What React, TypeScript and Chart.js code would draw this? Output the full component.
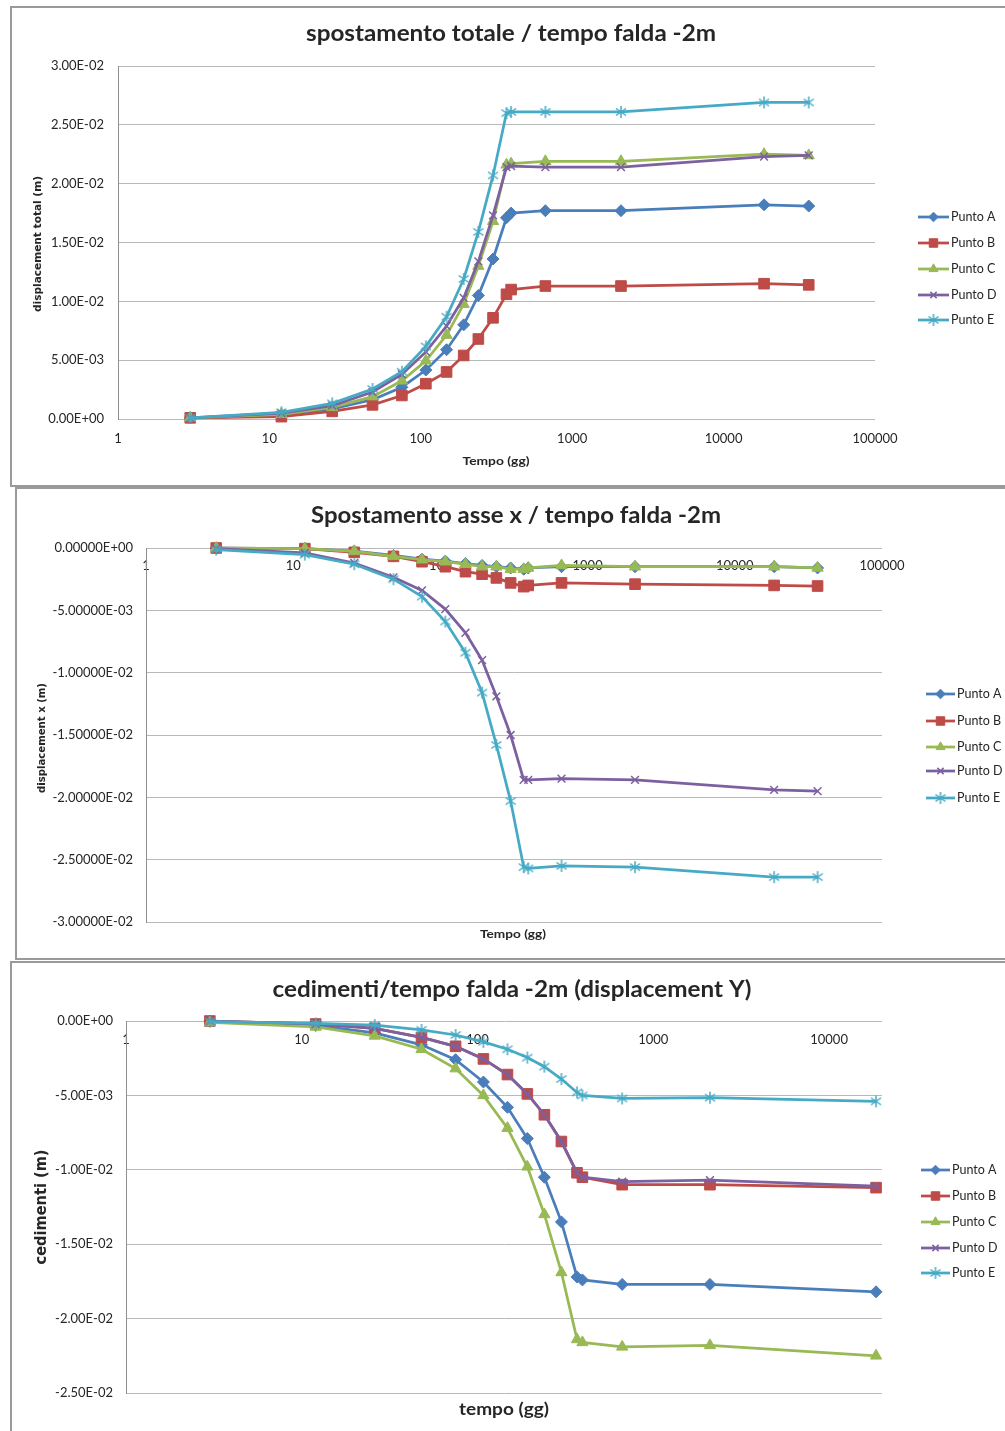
import React, { useEffect, useRef } from 'react';
import { Chart, registerables } from 'chart.js';
import { drawPoint } from 'chart.js/helpers';

Chart.register(...registerables);

// ---- series ----
const SERIES_NAMES = ['Punto A', 'Punto B', 'Punto C', 'Punto D', 'Punto E'];
const SERIES_COLORS = ['#4A7EBB', '#BE4B48', '#98B954', '#7D60A0', '#46AAC5'];

// time steps (giorni)
const TEMPO = [3, 12, 26, 48, 75, 108, 148, 192, 240, 300, 368, 395, 665, 2100, 18500, 36500];
const TEMPO_CED = [3, 12, 26, 48, 75, 108, 148, 192, 240, 300, 368, 395, 665, 2100, 18500];

// spostamento totale (m)
const TOT_A = [0.0001, 0.0003, 0.00085, 0.00164, 0.0027, 0.00416, 0.00589, 0.008, 0.0105, 0.0136, 0.0171, 0.0175, 0.0177, 0.0177, 0.0182, 0.0181];
const TOT_B = [0.0001, 0.0002, 0.00065, 0.0012, 0.002, 0.003, 0.004, 0.0054, 0.0068, 0.0086, 0.0106, 0.011, 0.0113, 0.0113, 0.0115, 0.0114];
const TOT_C = [0.0001, 0.0004, 0.00099, 0.0019, 0.00325, 0.00495, 0.00713, 0.00976, 0.013, 0.0168, 0.0216, 0.0217, 0.0219, 0.0219, 0.0225, 0.0224];
const TOT_D = [0.0001, 0.0005, 0.00113, 0.0023, 0.0038, 0.0057, 0.0079, 0.0103, 0.0134, 0.0173, 0.0214, 0.0215, 0.0214, 0.0214, 0.0223, 0.0224];
const TOT_E = [0.0001, 0.00057, 0.00133, 0.00255, 0.00402, 0.00617, 0.00869, 0.0119, 0.0159, 0.0207, 0.026, 0.0261, 0.0261, 0.0261, 0.0269, 0.0269];

// spostamento asse x (m)
const DX_A = [0, -0.00005, -0.00025, -0.0006, -0.0009, -0.00105, -0.00125, -0.0014, -0.0015, -0.0016, -0.0017, -0.0016, -0.0015, -0.0015, -0.0015, -0.0016];
const DX_B = [0, -0.00005, -0.00035, -0.00067, -0.0011, -0.0015, -0.0019, -0.0021, -0.0024, -0.0028, -0.0031, -0.003, -0.0028, -0.0029, -0.003, -0.00305];
const DX_C = [0, -0.00005, -0.00027, -0.00067, -0.00094, -0.0011, -0.0013, -0.0015, -0.0015, -0.0017, -0.0017, -0.0016, -0.0014, -0.0015, -0.0015, -0.0016];
const DX_D = [-0.00005, -0.0004, -0.0012, -0.00235, -0.0034, -0.0049, -0.0068, -0.009, -0.0119, -0.015, -0.0186, -0.0186, -0.0185, -0.0186, -0.0194, -0.0195];
const DX_E = [-0.00013, -0.00053, -0.0013, -0.0025, -0.0039, -0.0059, -0.0084, -0.0116, -0.0158, -0.0203, -0.0256, -0.0257, -0.0255, -0.0256, -0.0264, -0.0264];

// cedimenti (m)
const CED_A = [0, -0.0003, -0.0008, -0.0016, -0.0026, -0.0041, -0.0058, -0.0079, -0.0105, -0.0135, -0.0172, -0.0174, -0.0177, -0.0177, -0.0182];
const CED_B = [0, -0.0002, -0.0005, -0.0011, -0.0017, -0.00255, -0.0036, -0.0049, -0.0063, -0.0081, -0.0102, -0.0105, -0.011, -0.011, -0.0112];
const CED_C = [-0.0001, -0.0004, -0.001, -0.0019, -0.0032, -0.005, -0.0072, -0.0098, -0.013, -0.0169, -0.0214, -0.0216, -0.0219, -0.0218, -0.0225];
const CED_D = [0, -0.0002, -0.0005, -0.0011, -0.0017, -0.00255, -0.0036, -0.0049, -0.0063, -0.0081, -0.0102, -0.0105, -0.0108, -0.0107, -0.0111];
const CED_E = [-0.00004, -0.00016, -0.00027, -0.0006, -0.00094, -0.0014, -0.0019, -0.00246, -0.00307, -0.0039, -0.0048, -0.005, -0.0052, -0.00515, -0.0054];

// ---- ticks ----
const X_TICKS_LONG = [1, 10, 100, 1000, 10000, 100000];
const X_TICKS_SHORT = [1, 10, 100, 1000, 10000];
const Y_TICKS_TOT = [0, 0.005, 0.01, 0.015, 0.02, 0.025, 0.03];
const Y_TICKS_DX = [-0.03, -0.025, -0.02, -0.015, -0.01, -0.005, 0];
const Y_TICKS_CED = [-0.025, -0.02, -0.015, -0.01, -0.005, 0];

const CANVAS_W = 1005;
const TICK_FONT = { family: 'Lato', size: 13 };
const TEXT_COLOR = '#262626';

function fmtExp(v: number, digits: number): string {
  if (Math.abs(v) < 1e-12) return (0).toFixed(digits) + 'E+00';
  const [m, e] = v.toExponential(digits).split('e');
  const n = parseInt(e, 10);
  return m + 'E' + (n < 0 ? '-' : '+') + String(Math.abs(n)).padStart(2, '0');
}

function makeStar(color: string): HTMLCanvasElement {
  const c = document.createElement('canvas');
  c.width = 14;
  c.height = 14;
  const g = c.getContext('2d')!;
  g.strokeStyle = color;
  g.lineWidth = 1.5;
  g.beginPath();
  g.moveTo(7, 1);
  g.lineTo(7, 13);
  g.moveTo(2, 3.5);
  g.lineTo(12, 10.5);
  g.moveTo(12, 3.5);
  g.lineTo(2, 10.5);
  g.stroke();
  return c;
}

type TextSpec = { text: string; x: number; y: number; w: number; font: string; rotate?: boolean };

type PanelSpec = {
  frame: { left: number; top: number; height: number };
  canvasTop: number;
  canvasH: number;
  plot: { left: number; top: number; right: number; bottom: number };
  xs: number[];
  series: number[][];
  xMax: number;
  xTicks: number[];
  xTickPad: number;
  yTicks: number[];
  yDigits: number;
  yTickPad: number;
  title: TextSpec;
  xTitle: TextSpec;
  yTitle: TextSpec;
  legend: { x: number; line: number; ys: number[] };
};

const PANELS: PanelSpec[] = [
  {
    frame: { left: 10, top: 6, height: 481 },
    canvasTop: 6,
    canvasH: 480,
    plot: { left: 118, top: 60, right: 875, bottom: 413 },
    xs: TEMPO,
    series: [TOT_A, TOT_B, TOT_C, TOT_D, TOT_E],
    xMax: 100000,
    xTicks: X_TICKS_LONG,
    xTickPad: 12,
    yTicks: Y_TICKS_TOT,
    yDigits: 2,
    yTickPad: 14,
    title: { text: 'spostamento totale / tempo falda -2m', x: 511, y: 28, w: 410, font: 'bold 22px Lato' },
    xTitle: { text: 'Tempo (gg)', x: 496, y: 455, w: 67, font: 'bold 12px Lato' },
    yTitle: { text: 'displacement total (m)', x: 38, y: 238, w: 136, font: 'bold 10px "DejaVu Sans"', rotate: true },
    legend: { x: 918, line: 31, ys: [211, 237, 263, 289, 314] },
  },
  {
    frame: { left: 15, top: 487, height: 473 },
    canvasTop: 488,
    canvasH: 471,
    plot: { left: 146, top: 60, right: 882, bottom: 434 },
    xs: TEMPO,
    series: [DX_A, DX_B, DX_C, DX_D, DX_E],
    xMax: 100000,
    xTicks: X_TICKS_LONG,
    xTickPad: 10,
    yTicks: Y_TICKS_DX,
    yDigits: 5,
    yTickPad: 13,
    title: { text: 'Spostamento asse x / tempo falda -2m', x: 516, y: 28, w: 410, font: 'bold 22px Lato' },
    xTitle: { text: 'Tempo (gg)', x: 513, y: 446, w: 66, font: 'bold 12px Lato' },
    yTitle: { text: 'displacement x (m)', x: 42, y: 250, w: 110, font: 'bold 10px "DejaVu Sans"', rotate: true },
    legend: { x: 926, line: 29, ys: [206, 233, 259, 283, 310] },
  },
  {
    frame: { left: 10, top: 961, height: 520 },
    canvasTop: 962,
    canvasH: 469,
    plot: { left: 126, top: 59, right: 882, bottom: 431 },
    xs: TEMPO_CED,
    series: [CED_A, CED_B, CED_C, CED_D, CED_E],
    xMax: 20000,
    xTicks: X_TICKS_SHORT,
    xTickPad: 11,
    yTicks: Y_TICKS_CED,
    yDigits: 2,
    yTickPad: 13,
    title: { text: 'cedimenti/tempo falda -2m (displacement Y)', x: 512, y: 28, w: 479, font: 'bold 22px Lato' },
    xTitle: { text: 'tempo (gg)', x: 504, y: 448, w: 90, font: 'bold 17px Lato' },
    yTitle: { text: 'cedimenti (m)', x: 42, y: 245, w: 115, font: 'bold 15px "DejaVu Sans"', rotate: true },
    legend: { x: 921, line: 29, ys: [208, 234, 260, 286, 311] },
  },
];

function drawFitted(ctx: CanvasRenderingContext2D, t: TextSpec) {
  ctx.save();
  ctx.font = t.font;
  ctx.fillStyle = TEXT_COLOR;
  ctx.textAlign = 'center';
  ctx.textBaseline = 'middle';
  const w = ctx.measureText(t.text).width || 1;
  ctx.translate(t.x, t.y);
  if (t.rotate) ctx.rotate(-Math.PI / 2);
  ctx.scale(t.w / w, 1);
  ctx.fillText(t.text, 0, 0);
  ctx.restore();
}

function Panel({ spec }: { spec: PanelSpec }) {
  const ref = useRef<HTMLCanvasElement | null>(null);

  useEffect(() => {
    const canvas = ref.current;
    if (!canvas) return;
    const star = makeStar(SERIES_COLORS[4]);
    const styles: any[] = ['rectRot', 'rect', 'triangle', 'crossRot', star];
    const radii = [6, 7.5, 6.5, 5.5, 7];
    const borderW = [1, 1, 1, 1.5, 1];

    const datasets = spec.series.map((ys, i) => ({
      label: SERIES_NAMES[i],
      data: spec.xs.map((x, j) => ({ x, y: ys[j] })),
      borderColor: SERIES_COLORS[i],
      backgroundColor: SERIES_COLORS[i],
      borderWidth: 2.75,
      pointStyle: styles[i],
      pointRadius: radii[i],
      pointBackgroundColor: SERIES_COLORS[i],
      pointBorderColor: SERIES_COLORS[i],
      pointBorderWidth: borderW[i],
      tension: 0,
      order: 5 - i,
      clip: 10,
    }));

    const decor = {
      id: 'decor',
      afterDraw(chart: any) {
        const ctx: CanvasRenderingContext2D = chart.ctx;
        drawFitted(ctx, spec.title);
        drawFitted(ctx, spec.xTitle);
        drawFitted(ctx, spec.yTitle);
        // legend: line + marker + label
        const lg = spec.legend;
        chart.data.datasets.forEach((ds: any, i: number) => {
          const y = lg.ys[i];
          ctx.save();
          ctx.strokeStyle = ds.borderColor;
          ctx.lineWidth = 2.75;
          ctx.beginPath();
          ctx.moveTo(lg.x, y);
          ctx.lineTo(lg.x + lg.line, y);
          ctx.stroke();
          ctx.fillStyle = ds.pointBackgroundColor;
          ctx.strokeStyle = ds.pointBorderColor;
          ctx.lineWidth = ds.pointBorderWidth;
          drawPoint(ctx, { pointStyle: ds.pointStyle, radius: ds.pointRadius * 0.8, borderWidth: ds.pointBorderWidth, rotation: 0 } as any, lg.x + lg.line / 2, y);
          ctx.font = '12.5px Lato';
          ctx.fillStyle = TEXT_COLOR;
          ctx.textAlign = 'left';
          ctx.textBaseline = 'middle';
          ctx.fillText(ds.label, lg.x + lg.line + 2, y);
          ctx.restore();
        });
      },
    };

    const p = spec.plot;
    const chart = new Chart(canvas, {
      type: 'line',
      data: { datasets: datasets as any },
      options: {
        responsive: false,
        animation: false,
        devicePixelRatio: 1,
        events: [],
        layout: {
          padding: { left: 0, top: p.top, right: CANVAS_W - p.right, bottom: spec.canvasH - p.bottom },
        },
        plugins: {
          legend: { display: false },
          tooltip: { enabled: false },
          title: { display: false },
        },
        scales: {
          x: {
            type: 'logarithmic',
            min: 1,
            max: spec.xMax,
            position: { y: 0 } as any,
            afterBuildTicks: (s: any) => {
              s.ticks = spec.xTicks.map((v) => ({ value: v }));
            },
            ticks: {
              callback: (v: any) => String(v),
              font: TICK_FONT,
              color: TEXT_COLOR,
              padding: spec.xTickPad,
              autoSkip: false,
              maxRotation: 0,
              minRotation: 0,
            },
            grid: { display: false, drawTicks: false },
            border: { display: false },
          },
          y: {
            type: 'linear',
            position: 'left',
            min: spec.yTicks[0],
            max: spec.yTicks[spec.yTicks.length - 1],
            afterBuildTicks: (s: any) => {
              s.ticks = spec.yTicks.map((v) => ({ value: v }));
            },
            afterFit: (s: any) => {
              s.width = p.left;
            },
            ticks: {
              callback: (v: any) => fmtExp(Number(v), spec.yDigits),
              font: TICK_FONT,
              color: TEXT_COLOR,
              padding: spec.yTickPad,
            },
            grid: { color: '#b9b9b9', lineWidth: 1, drawTicks: false },
            border: { display: true, color: '#8e8e8e', width: 1 },
          },
        },
      } as any,
      plugins: [decor],
    });
    return () => chart.destroy();
  }, [spec]);

  return (
    <>
      <canvas
        ref={ref}
        width={CANVAS_W}
        height={spec.canvasH}
        style={{ position: 'absolute', left: 0, top: spec.canvasTop, width: CANVAS_W, height: spec.canvasH }}
      />
      <div
        style={{
          position: 'absolute',
          left: spec.frame.left,
          top: spec.frame.top,
          width: 1100,
          height: spec.frame.height,
          border: '2px solid #9a9a9a',
          boxSizing: 'border-box',
          pointerEvents: 'none',
        }}
      />
    </>
  );
}

export default function App() {
  return (
    <div
      style={{
        position: 'fixed',
        left: 0,
        top: 0,
        width: 1005,
        height: 1431,
        overflow: 'hidden',
        background: '#ffffff',
      }}
    >
      {PANELS.map((p, i) => (
        <Panel key={i} spec={p} />
      ))}
    </div>
  );
}
